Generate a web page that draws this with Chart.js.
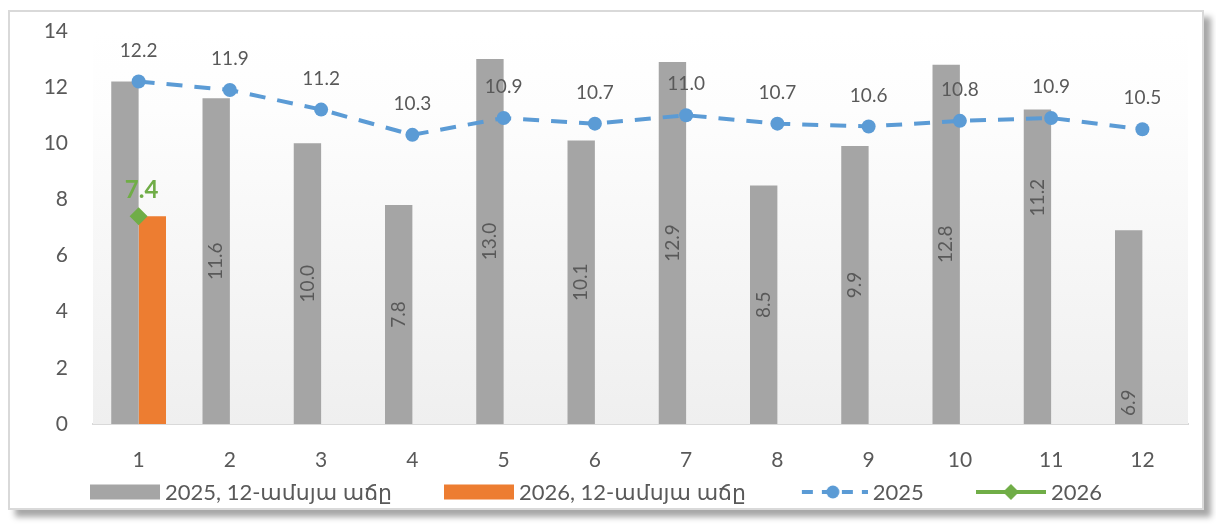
<!DOCTYPE html>
<html>
<head>
<meta charset="utf-8">
<script src="https://cdn.jsdelivr.net/npm/chart.js@4.4.1/dist/chart.umd.min.js"></script>
<style>
  html, body { margin: 0; padding: 0; background: #fff; }
  #wrap { position: relative; width: 1216px; height: 524px; overflow: hidden; }
  #frame {
    position: absolute; left: 8px; top: 10px; width: 1192px; height: 496px;
    border: 2px solid #d9d9d9; background: #fff;
    box-shadow: 7px 7px 6px rgba(0, 0, 0, 0.35);
  }
  canvas { position: absolute; left: 0; top: 0; }
</style>
</head>
<body>
<div id="wrap">
  <div id="frame"></div>
  <canvas id="chart" width="1216" height="524"></canvas>
</div>
<script>
const months = ['1', '2', '3', '4', '5', '6', '7', '8', '9', '10', '11', '12'];
const growth2025 = [12.2, 11.6, 10.0, 7.8, 13.0, 10.1, 12.9, 8.5, 9.9, 12.8, 11.2, 6.9];
const growth2026 = [7.4, null, null, null, null, null, null, null, null, null, null, null];
const line2025 = [12.2, 11.9, 11.2, 10.3, 10.9, 10.7, 11.0, 10.7, 10.6, 10.8, 10.9, 10.5];
const line2026 = [7.4, null, null, null, null, null, null, null, null, null, null, null];
const seriesNames = ['2025, 12-ամսյա աճը', '2026, 12-ամսյա աճը', '2025', '2026'];

// where the rotated bar labels sit, as share of bar height (null = no label)
const barLabelAt = [null, 0.5, 0.5, 0.5, 0.5, 0.5, 0.5, 0.5, 0.5, 0.5, 0.72, 0.11];

const FONT = 'Lato, "DejaVu Sans", sans-serif';
const TEXT = '#595959';
const GRAY = '#a5a5a5', ORANGE = '#ed7d31', BLUE = '#5b9bd5', GREEN = '#70ad47';

Chart.defaults.font.family = FONT;
Chart.defaults.color = TEXT;

// legend icons like the excel ones
function icon(draw) {
  const c = document.createElement('canvas');
  c.width = 70; c.height = 18;
  draw(c.getContext('2d'));
  return c;
}
const legendIcons = [
  icon(g => { g.fillStyle = GRAY; g.fillRect(0, 1.5, 70, 15); }),
  icon(g => { g.fillStyle = ORANGE; g.fillRect(0, 1.5, 70, 15); }),
  icon(g => {
    g.strokeStyle = BLUE; g.lineWidth = 4;
    g.setLineDash([11, 9]);
    g.beginPath(); g.moveTo(4, 9); g.lineTo(70, 9); g.stroke();
    g.fillStyle = BLUE;
    g.beginPath(); g.arc(35, 9, 6.5, 0, Math.PI * 2); g.fill();
  }),
  icon(g => {
    g.strokeStyle = GREEN; g.lineWidth = 4;
    g.beginPath(); g.moveTo(0, 9); g.lineTo(70, 9); g.stroke();
    g.fillStyle = GREEN;
    g.beginPath(); g.moveTo(35, 1); g.lineTo(43, 9); g.lineTo(35, 17); g.lineTo(27, 9); g.closePath(); g.fill();
  })
];

const plotBackground = {
  id: 'plotBackground',
  beforeDatasetsDraw(chart) {
    const { ctx, chartArea: a } = chart;
    const grad = ctx.createLinearGradient(0, a.top, 0, a.bottom);
    grad.addColorStop(0, '#ffffff');
    grad.addColorStop(0.2, '#fdfdfd');
    grad.addColorStop(1, '#efefef');
    ctx.save();
    ctx.fillStyle = grad;
    ctx.fillRect(a.left, a.top, a.right - a.left, a.bottom - a.top);
    ctx.restore();
  }
};

const valueLabels = {
  id: 'valueLabels',
  afterDatasetsDraw(chart) {
    const ctx = chart.ctx;
    const base = chart.scales.y.getPixelForValue(0);
    ctx.save();
    ctx.textAlign = 'center';
    ctx.textBaseline = 'middle';
    ctx.fillStyle = TEXT;
    ctx.font = '19px ' + FONT;
    chart.getDatasetMeta(0).data.forEach((bar, i) => {
      const f = barLabelAt[i];
      if (f == null) return;
      ctx.save();
      ctx.translate(bar.x, base - (base - bar.y) * f);
      ctx.rotate(-Math.PI / 2);
      ctx.fillText(growth2025[i].toFixed(1), 0, 0);
      ctx.restore();
    });
    chart.getDatasetMeta(2).data.forEach((p, i) => {
      ctx.fillText(line2025[i].toFixed(1), p.x, p.y - 31);
    });
    ctx.fillStyle = GREEN;
    ctx.font = 'bold 24px ' + FONT;
    chart.getDatasetMeta(3).data.forEach((p, i) => {
      if (line2026[i] == null) return;
      ctx.fillText(line2026[i].toFixed(1), p.x + 3, p.y - 26);
    });
    ctx.restore();
  }
};

// one-row legend under the axis, excel style spacing
const bottomLegend = {
  id: 'bottomLegend',
  afterDraw(chart) {
    const ctx = chart.ctx;
    const y = 492;
    let x = 90;
    ctx.save();
    ctx.font = '22px ' + FONT;
    ctx.fillStyle = TEXT;
    ctx.textAlign = 'left';
    ctx.textBaseline = 'middle';
    chart.data.datasets.forEach((ds, i) => {
      const ic = legendIcons[i];
      ctx.drawImage(ic, x, y - ic.height / 2);
      x += ic.width + 5;
      ctx.fillText(ds.label, x, y + 1);
      x += ctx.measureText(ds.label).width + 52;
    });
    ctx.restore();
  }
};

new Chart(document.getElementById('chart'), {
  type: 'bar',
  data: {
    labels: months,
    datasets: [
      { label: seriesNames[0], data: growth2025, backgroundColor: GRAY, order: 2,
        categoryPercentage: 0.6, barPercentage: 1.0 },
      { label: seriesNames[1], data: growth2026, backgroundColor: ORANGE, order: 2,
        categoryPercentage: 0.6, barPercentage: 1.0 },
      { type: 'line', label: seriesNames[2], data: line2025, borderColor: BLUE, backgroundColor: BLUE,
        borderWidth: 4, borderDash: [16, 12], pointRadius: 7, pointBorderWidth: 0, tension: 0, order: 1 },
      { type: 'line', label: seriesNames[3], data: line2026, borderColor: GREEN, backgroundColor: GREEN,
        borderWidth: 4, pointStyle: 'rectRot', pointRadius: 9, pointBorderWidth: 0, order: 0 }
    ]
  },
  options: {
    responsive: false,
    animation: false,
    layout: { padding: { left: 0, right: 28, top: 31, bottom: 50 } },
    plugins: {
      tooltip: { enabled: false },
      legend: { display: false }
    },
    scales: {
      x: {
        grid: { display: false, drawTicks: false },
        border: { color: '#d9d9d9', width: 2 },
        ticks: { font: { size: 21 }, color: TEXT, padding: 24 },
        afterFit: s => { s.height = 50; }
      },
      y: {
        min: 0, max: 14,
        grid: { display: false, drawTicks: false },
        border: { display: false },
        ticks: { stepSize: 2, font: { size: 21 }, color: TEXT, padding: 25 },
        // the tick padding leaks into the vertical padding, drop it
        afterFit: s => { s.width = 93; s.paddingTop = 0; s.paddingBottom = 0; }
      }
    }
  },
  plugins: [plotBackground, valueLabels, bottomLegend]
});
</script>
</body>
</html>
